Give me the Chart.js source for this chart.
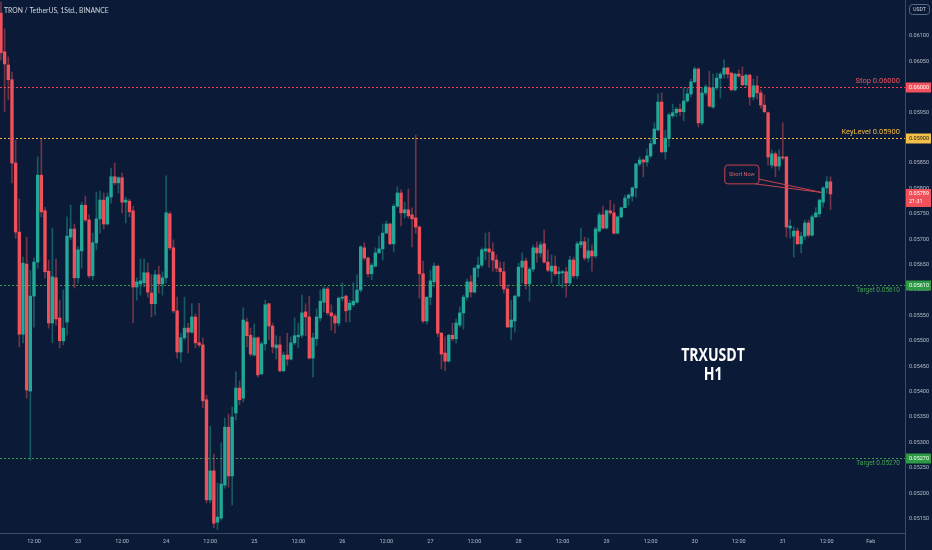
<!DOCTYPE html>
<html>
<head>
<meta charset="utf-8">
<script src="https://cdn.jsdelivr.net/npm/chart.js@4.4.0/dist/chart.umd.min.js"></script>
<style>
  html, body { margin: 0; padding: 0; background: #0b1b37; }
  #wrap { position: relative; width: 932px; height: 550px; }
</style>
</head>
<body>
<div id="wrap"><canvas id="chart"></canvas></div>
<script>
// TRX / USDT, 1h candles from 22 Jan 03:00 to 31 Jan 13:00
const firstHour = 3; // hours after 22 Jan 00:00

const opens = [
  0.06145,0.06069,0.06043,0.06014,0.05850,0.05714,0.05513,0.05651,0.05401,0.05588,
  0.05655,0.05826,0.05756,0.05637,0.05535,0.05624,0.05545,0.05500,0.05537,0.05704,
  0.05720,0.05624,0.05677,0.05767,0.05738,0.05628,0.05693,0.05740,0.05777,0.05730,
  0.05783,0.05823,0.05811,0.05821,0.05773,0.05775,0.05756,0.05606,0.05612,0.05614,
  0.05634,0.05594,0.05573,0.05630,0.05612,0.05624,0.05750,0.05683,0.05559,0.05478,
  0.05506,0.05525,0.05517,0.05547,0.05496,0.05492,0.05384,0.05187,0.05244,0.05143,
  0.05151,0.05216,0.05330,0.05234,0.05358,0.05407,0.05387,0.05537,0.05511,0.05472,
  0.05506,0.05435,0.05494,0.05573,0.05529,0.05486,0.05492,0.05441,0.05472,0.05464,
  0.05496,0.05508,0.05511,0.05557,0.05547,0.05466,0.05504,0.05545,0.05576,0.05602,
  0.05555,0.05549,0.05535,0.05584,0.05588,0.05561,0.05571,0.05576,0.05600,0.05683,
  0.05663,0.05632,0.05647,0.05673,0.05681,0.05712,0.05730,0.05691,0.05765,0.05791,
  0.05752,0.05758,0.05748,0.05742,0.05724,0.05632,0.05539,0.05586,0.05616,0.05647,
  0.05515,0.05476,0.05460,0.05511,0.05504,0.05531,0.05555,0.05586,0.05616,0.05596,
  0.05643,0.05649,0.05677,0.05681,0.05675,0.05659,0.05643,0.05636,0.05602,0.05527,
  0.05539,0.05588,0.05645,0.05657,0.05612,0.05641,0.05683,0.05673,0.05691,0.05655,
  0.05637,0.05647,0.05632,0.05634,0.05636,0.05614,0.05659,0.05628,0.05689,0.05695,
  0.05663,0.05677,0.05667,0.05716,0.05748,0.05722,0.05756,0.05752,0.05712,0.05744,
  0.05762,0.05781,0.05785,0.05801,0.05848,0.05856,0.05852,0.05864,0.05888,0.05915,
  0.05970,0.05872,0.05899,0.05943,0.05949,0.05956,0.05951,0.05972,0.05986,0.06010,
  0.06035,0.05929,0.05988,0.05998,0.05960,0.05998,0.06017,0.06025,0.06037,0.06027,
  0.05994,0.06025,0.06021,0.06004,0.06023,0.05980,0.06002,0.05988,0.05964,0.05949,
  0.05846,0.05868,0.05844,0.05862,0.05862,0.05722,0.05706,0.05716,0.05691,0.05706,
  0.05732,0.05708,0.05744,0.05750,0.05773,0.05801,0.05813
];
const highs = [
  0.06167,0.06114,0.06059,0.06029,0.05895,0.05779,0.05665,0.05704,0.05639,0.05663,
  0.05862,0.05899,0.05763,0.05659,0.05722,0.05661,0.05580,0.05600,0.05744,0.05767,
  0.05730,0.05685,0.05773,0.05785,0.05748,0.05712,0.05793,0.05795,0.05791,0.05791,
  0.05840,0.05850,0.05823,0.05830,0.05783,0.05779,0.05765,0.05624,0.05661,0.05661,
  0.05653,0.05630,0.05639,0.05647,0.05636,0.05825,0.05754,0.05699,0.05586,0.05515,
  0.05586,0.05535,0.05573,0.05553,0.05574,0.05506,0.05393,0.05332,0.05277,0.05220,
  0.05299,0.05348,0.05356,0.05370,0.05439,0.05421,0.05565,0.05545,0.05525,0.05533,
  0.05508,0.05498,0.05580,0.05574,0.05535,0.05510,0.05508,0.05478,0.05515,0.05508,
  0.05545,0.05535,0.05590,0.05573,0.05588,0.05515,0.05563,0.05600,0.05606,0.05606,
  0.05571,0.05553,0.05586,0.05614,0.05590,0.05580,0.05614,0.05630,0.05687,0.05693,
  0.05665,0.05653,0.05683,0.05706,0.05730,0.05736,0.05732,0.05769,0.05803,0.05797,
  0.05773,0.05799,0.05762,0.05905,0.05726,0.05657,0.05586,0.05639,0.05653,0.05649,
  0.05517,0.05508,0.05513,0.05535,0.05543,0.05567,0.05590,0.05622,0.05628,0.05645,
  0.05665,0.05683,0.05712,0.05714,0.05693,0.05669,0.05655,0.05655,0.05610,0.05580,
  0.05590,0.05653,0.05673,0.05663,0.05645,0.05689,0.05695,0.05695,0.05718,0.05679,
  0.05669,0.05667,0.05645,0.05639,0.05645,0.05667,0.05665,0.05695,0.05722,0.05704,
  0.05702,0.05689,0.05724,0.05752,0.05765,0.05758,0.05777,0.05769,0.05746,0.05763,
  0.05787,0.05789,0.05803,0.05850,0.05862,0.05858,0.05878,0.05899,0.05929,0.05986,
  0.05988,0.05915,0.05949,0.05966,0.05960,0.05966,0.05998,0.05998,0.06015,0.06039,
  0.06037,0.05998,0.06004,0.06031,0.06025,0.06027,0.06029,0.06053,0.06039,0.06029,
  0.06027,0.06033,0.06039,0.06025,0.06025,0.06015,0.06021,0.05994,0.05984,0.05951,
  0.05876,0.05872,0.05876,0.05929,0.05862,0.05738,0.05724,0.05722,0.05714,0.05738,
  0.05738,0.05748,0.05762,0.05779,0.05803,0.05823,0.05823
];
const lows = [
  0.06053,0.05951,0.05974,0.05811,0.05702,0.05488,0.05496,0.05387,0.05265,0.05527,
  0.05643,0.05744,0.05624,0.05525,0.05496,0.05531,0.05486,0.05492,0.05511,0.05699,
  0.05604,0.05614,0.05643,0.05734,0.05624,0.05620,0.05679,0.05712,0.05720,0.05728,
  0.05771,0.05807,0.05791,0.05752,0.05732,0.05744,0.05535,0.05580,0.05590,0.05606,
  0.05586,0.05547,0.05551,0.05594,0.05590,0.05614,0.05679,0.05555,0.05466,0.05458,
  0.05502,0.05476,0.05515,0.05486,0.05488,0.05368,0.05181,0.05181,0.05132,0.05128,
  0.05147,0.05210,0.05212,0.05177,0.05344,0.05374,0.05380,0.05488,0.05470,0.05470,
  0.05429,0.05433,0.05482,0.05502,0.05476,0.05464,0.05439,0.05439,0.05452,0.05462,
  0.05492,0.05486,0.05506,0.05510,0.05464,0.05429,0.05490,0.05539,0.05557,0.05551,
  0.05521,0.05515,0.05529,0.05578,0.05537,0.05537,0.05567,0.05574,0.05596,0.05659,
  0.05626,0.05620,0.05645,0.05673,0.05659,0.05712,0.05689,0.05675,0.05763,0.05726,
  0.05742,0.05742,0.05685,0.05712,0.05584,0.05535,0.05533,0.05571,0.05606,0.05508,
  0.05445,0.05441,0.05458,0.05500,0.05496,0.05527,0.05523,0.05580,0.05586,0.05594,
  0.05626,0.05645,0.05659,0.05645,0.05637,0.05636,0.05608,0.05594,0.05527,0.05502,
  0.05517,0.05586,0.05614,0.05602,0.05578,0.05636,0.05655,0.05665,0.05653,0.05636,
  0.05614,0.05628,0.05608,0.05604,0.05586,0.05610,0.05624,0.05622,0.05683,0.05659,
  0.05655,0.05637,0.05663,0.05714,0.05720,0.05720,0.05748,0.05710,0.05710,0.05742,
  0.05762,0.05767,0.05775,0.05783,0.05844,0.05823,0.05844,0.05860,0.05886,0.05913,
  0.05870,0.05858,0.05882,0.05939,0.05941,0.05943,0.05933,0.05970,0.05980,0.06008,
  0.05921,0.05925,0.05984,0.05960,0.05958,0.05994,0.05978,0.06017,0.06017,0.05992,
  0.05992,0.06019,0.06002,0.06000,0.05964,0.05974,0.05976,0.05958,0.05949,0.05846,
  0.05840,0.05823,0.05836,0.05856,0.05704,0.05702,0.05665,0.05689,0.05673,0.05699,
  0.05704,0.05706,0.05742,0.05744,0.05763,0.05791,0.05758
];
const closes = [
  0.06067,0.06045,0.06014,0.05850,0.05714,0.05513,0.05653,0.05403,0.05588,0.05655,
  0.05826,0.05754,0.05636,0.05535,0.05626,0.05543,0.05500,0.05525,0.05706,0.05720,
  0.05624,0.05679,0.05767,0.05738,0.05628,0.05693,0.05740,0.05777,0.05730,0.05783,
  0.05823,0.05811,0.05821,0.05773,0.05777,0.05754,0.05606,0.05616,0.05618,0.05634,
  0.05596,0.05573,0.05630,0.05612,0.05624,0.05752,0.05683,0.05559,0.05478,0.05506,
  0.05525,0.05517,0.05547,0.05496,0.05492,0.05382,0.05187,0.05244,0.05141,0.05153,
  0.05218,0.05330,0.05234,0.05350,0.05407,0.05384,0.05541,0.05510,0.05474,0.05506,
  0.05433,0.05494,0.05571,0.05529,0.05488,0.05492,0.05441,0.05472,0.05464,0.05496,
  0.05510,0.05511,0.05555,0.05547,0.05466,0.05506,0.05547,0.05578,0.05602,0.05555,
  0.05549,0.05535,0.05584,0.05586,0.05559,0.05574,0.05578,0.05600,0.05685,0.05663,
  0.05632,0.05649,0.05673,0.05681,0.05712,0.05730,0.05691,0.05765,0.05791,0.05752,
  0.05758,0.05746,0.05740,0.05724,0.05632,0.05539,0.05586,0.05618,0.05647,0.05515,
  0.05474,0.05460,0.05511,0.05504,0.05535,0.05555,0.05586,0.05616,0.05596,0.05643,
  0.05649,0.05679,0.05681,0.05675,0.05659,0.05643,0.05636,0.05602,0.05527,0.05541,
  0.05588,0.05645,0.05657,0.05612,0.05641,0.05683,0.05673,0.05689,0.05655,0.05639,
  0.05647,0.05632,0.05636,0.05636,0.05614,0.05659,0.05628,0.05691,0.05695,0.05663,
  0.05677,0.05667,0.05720,0.05748,0.05722,0.05756,0.05752,0.05712,0.05744,0.05762,
  0.05781,0.05787,0.05801,0.05848,0.05856,0.05852,0.05864,0.05888,0.05917,0.05970,
  0.05872,0.05899,0.05945,0.05949,0.05956,0.05951,0.05972,0.05986,0.06010,0.06035,
  0.05929,0.05988,0.06000,0.05962,0.05998,0.06017,0.06025,0.06037,0.06025,0.05994,
  0.06025,0.06021,0.06004,0.06023,0.05980,0.06002,0.05988,0.05964,0.05951,0.05862,
  0.05868,0.05844,0.05862,0.05860,0.05724,0.05726,0.05716,0.05691,0.05706,0.05732,
  0.05708,0.05744,0.05752,0.05777,0.05801,0.05813,0.05789
];
const hours = opens.map((_, i) => firstHour + i);

// axis ticks
const xTickHours = [12, 24, 36, 48, 60, 72, 84, 96, 108, 120, 132, 144, 156, 168, 180, 192, 204, 216, 228, 240];
const xTickLabels = ['12:00', '23', '12:00', '24', '12:00', '25', '12:00', '26', '12:00', '27',
                     '12:00', '28', '12:00', '29', '12:00', '30', '12:00', '31', '12:00', 'Feb'];
const yTicks = [0.0515, 0.0520, 0.0525, 0.0530, 0.0535, 0.0540, 0.0545, 0.0550, 0.0555, 0.0560,
                0.0565, 0.0570, 0.0575, 0.0580, 0.0585, 0.0590, 0.0595, 0.0600, 0.0605, 0.0610];

// drawn levels
const levelNames = ['Stop', 'KeyLevel', 'Target', 'Target'];
const levelPrices = [0.06000, 0.05900, 0.05610, 0.05270];
const lastPrice = closes[closes.length - 1];
const countdown = '21:31';

// colours
const bg = '#0b1b37';
const up = '#22a897', down = '#f0505a';
const upWick = 'rgba(34,168,151,0.45)', downWick = 'rgba(240,80,90,0.45)';
const levelStyle = [
  { line: '#ff3c50', text: '#f0525e', tag: '#f0525e', tagText: '#ffffff', above: true, size: 7.5 },
  { line: '#f5b53a', text: '#f5b942', tag: '#f5c04a', tagText: '#1b1b1b', above: true, size: 7.5 },
  { line: '#3d9a48', text: '#47a255', tag: '#2f9a45', tagText: '#ffffff', above: false, size: 6.5 },
  { line: '#3d9a48', text: '#47a255', tag: '#2f9a45', tagText: '#ffffff', above: false, size: 6.5 }
];
const axisText = '#b8bdc9';
const axisLine = '#3d4b66';

const overlay = {
  id: 'overlay',
  beforeDatasetsDraw(chart) {
    const { ctx, chartArea: a, scales: { y } } = chart;
    ctx.save();
    ctx.lineWidth = 1;
    ctx.setLineDash([2, 2]);
    levelPrices.forEach((p, i) => {
      const py = Math.round(y.getPixelForValue(p)) + 0.5;
      ctx.strokeStyle = levelStyle[i].line;
      ctx.beginPath();
      ctx.moveTo(a.left, py);
      ctx.lineTo(a.right, py);
      ctx.stroke();
    });
    ctx.restore();
  },
  afterDraw(chart) {
    const { ctx, chartArea: a, scales: { x, y } } = chart;
    const W = chart.width, H = chart.height;
    ctx.save();

    // axis line continues through the time axis
    ctx.strokeStyle = axisLine;
    ctx.lineWidth = 1;
    ctx.beginPath();
    ctx.moveTo(a.right + 0.5, a.bottom);
    ctx.lineTo(a.right + 0.5, H);
    ctx.stroke();

    // level labels and tags
    levelPrices.forEach((p, i) => {
      const s = levelStyle[i];
      const py = Math.round(y.getPixelForValue(p)) + 0.5;
      ctx.font = s.size + 'px Roboto';
      ctx.fillStyle = s.text;
      ctx.textAlign = 'right';
      if (s.above) {
        ctx.textBaseline = 'bottom';
        ctx.fillText(levelNames[i] + ' ' + p.toFixed(5), a.right - 5, py - 3);
      } else {
        ctx.textBaseline = 'top';
        ctx.fillText(levelNames[i] + ' ' + p.toFixed(5), a.right - 5, py + 2);
      }
      ctx.fillStyle = s.tag;
      ctx.fillRect(a.right + 1, py - 5, W - a.right - 2, 10);
      ctx.fillStyle = s.tagText;
      ctx.font = '5.5px Roboto';
      ctx.textAlign = 'left';
      ctx.textBaseline = 'middle';
      ctx.fillText(p.toFixed(5), a.right + 4, py + 0.5);
    });

    // last price tag
    const ly = y.getPixelForValue(lastPrice);
    ctx.fillStyle = down;
    ctx.fillRect(a.right + 1, ly - 5, W - a.right - 2, 18);
    ctx.fillStyle = '#ffffff';
    ctx.font = '5.5px Roboto';
    ctx.textAlign = 'left';
    ctx.textBaseline = 'middle';
    ctx.fillText(lastPrice.toFixed(5), a.right + 4, ly);
    ctx.fillText(countdown, a.right + 4, ly + 8);

    // currency box
    ctx.strokeStyle = '#5b6985';
    ctx.beginPath();
    ctx.roundRect(a.right + 4.5, 4.5, 20, 10, 3);
    ctx.stroke();
    ctx.fillStyle = '#d5d8e0';
    ctx.font = '5px Roboto';
    ctx.textAlign = 'center';
    ctx.fillText('USDT', a.right + 14.5, 10);

    // title
    ctx.fillStyle = '#d1d4dc';
    ctx.font = '6.8px Lato';
    ctx.textAlign = 'left';
    ctx.textBaseline = 'middle';
    ctx.fillText('TRON / TetherUS, 1Std., BINANCE', 4, 11);

    // symbol label, narrowed
    ctx.fillStyle = '#ffffff';
    ctx.font = 'bold 18px "Open Sans"';
    ctx.textAlign = 'center';
    [['TRXUSDT', 0.05470], ['H1', 0.05433]].forEach(([t, p]) => {
      ctx.save();
      ctx.translate(x.getPixelForValue(197), y.getPixelForValue(p));
      ctx.scale(0.78, 1);
      ctx.fillText(t, 0, 0);
      ctx.restore();
    });

    // "Short Now" callout
    const bx1 = x.getPixelForValue(200.2), bx2 = x.getPixelForValue(209.5);
    const by1 = y.getPixelForValue(0.05846), by2 = y.getPixelForValue(0.05809);
    const tx = x.getPixelForValue(226.6), ty = y.getPixelForValue(0.05792);
    ctx.strokeStyle = '#c8434f';
    ctx.lineWidth = 1;
    ctx.beginPath();
    ctx.moveTo(bx2 - 1, by2 - 5);
    ctx.lineTo(tx, ty);
    ctx.lineTo(bx2 - 4, by2);
    ctx.stroke();
    ctx.beginPath();
    ctx.roundRect(bx1, by1, bx2 - bx1, by2 - by1, 3);
    ctx.fillStyle = bg;
    ctx.fill();
    ctx.stroke();
    ctx.fillStyle = '#d8606a';
    ctx.font = '5.5px Roboto';
    ctx.textAlign = 'center';
    ctx.textBaseline = 'middle';
    ctx.fillText('Short Now', (bx1 + bx2) / 2, (by1 + by2) / 2);

    ctx.restore();
  }
};

new Chart(document.getElementById('chart'), {
  type: 'bar',
  data: {
    datasets: [
      {
        label: 'body',
        data: hours.map((h, i) => ({ x: h, y: [opens[i], closes[i]] })),
        backgroundColor: hours.map((h, i) => closes[i] >= opens[i] ? up : down),
        barThickness: 2.7,
        minBarLength: 1,
        grouped: false,
        borderWidth: 0,
        order: 0
      },
      {
        label: 'wick',
        data: hours.map((h, i) => ({ x: h, y: [lows[i], highs[i]] })),
        backgroundColor: hours.map((h, i) => closes[i] >= opens[i] ? upWick : downWick),
        barThickness: 1,
        minBarLength: 1,
        grouped: false,
        borderWidth: 0,
        order: 1
      }
    ]
  },
  options: {
    responsive: true,
    maintainAspectRatio: false,
    animation: false,
    layout: { padding: 0 },
    plugins: { legend: { display: false }, tooltip: { enabled: false } },
    scales: {
      x: {
        type: 'linear',
        min: 2.74,
        max: 249.3,
        offset: false,
        grid: { display: false, drawTicks: false },
        border: { display: true, color: axisLine, width: 1 },
        afterBuildTicks: s => { s.ticks = xTickHours.map(v => ({ value: v })); },
        afterFit: s => { s.height = 17; s.paddingLeft = 0; s.paddingRight = 0; },
        ticks: {
          autoSkip: false,
          maxRotation: 0,
          padding: 5,
          color: axisText,
          font: { family: 'Roboto', size: 5.5 },
          callback: (v, i) => xTickLabels[i]
        }
      },
      y: {
        position: 'right',
        min: 0.051217,
        max: 0.061709,
        grid: { display: false, drawTicks: false },
        border: { display: true, color: axisLine, width: 1 },
        afterBuildTicks: s => { s.ticks = yTicks.map(v => ({ value: v })); },
        afterFit: s => { s.width = 27; s.paddingTop = 0; s.paddingBottom = 0; },
        ticks: {
          padding: 4,
          color: axisText,
          font: { family: 'Roboto', size: 5.5 },
          callback: v => v.toFixed(5)
        }
      }
    }
  },
  plugins: [overlay]
});
</script>
</body>
</html>
